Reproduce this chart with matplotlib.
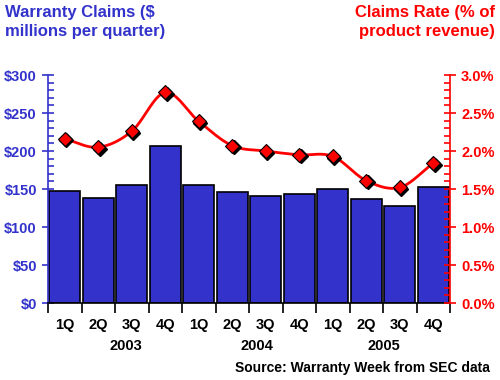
import matplotlib
matplotlib.use("Agg")
import matplotlib.pyplot as plt
import matplotlib.transforms as mtransforms
from matplotlib.ticker import MultipleLocator, FixedLocator, NullFormatter
import numpy as np

plt.rcParams['font.family'] = ['Liberation Sans', 'DejaVu Sans']
plt.rcParams['font.weight'] = 'bold'

quarters = ['1Q', '2Q', '3Q', '4Q'] * 3
years = ['2003', '2004', '2005']
claims = [148, 138, 155, 207, 155, 146, 141, 143, 150, 137, 128, 152]      # $ millions
rate = [2.16, 2.05, 2.26, 2.77, 2.39, 2.07, 2.00, 1.95, 1.93, 1.61, 1.52, 1.84]  # %

BLUE = '#3333cc'
RED = '#ff0000'


def catmull_rom(x, y, n=20):
    # smooth curve through the points, like the original chart's smoothed line
    px = np.concatenate([[2 * x[0] - x[1]], x, [2 * x[-1] - x[-2]]])
    py = np.concatenate([[2 * y[0] - y[1]], y, [2 * y[-1] - y[-2]]])
    xs, ys = [], []
    t = np.linspace(0, 1, n, endpoint=False)
    for i in range(1, len(px) - 2):
        for arr, out in ((px, xs), (py, ys)):
            p0, p1, p2, p3 = arr[i - 1], arr[i], arr[i + 1], arr[i + 2]
            out.extend(0.5 * ((2 * p1) + (-p0 + p2) * t
                              + (2 * p0 - 5 * p1 + 4 * p2 - p3) * t ** 2
                              + (-p0 + 3 * p1 - 3 * p2 + p3) * t ** 3))
    xs.append(x[-1])
    ys.append(y[-1])
    return np.array(xs), np.array(ys)


fig = plt.figure(figsize=(5, 3.8), dpi=100)
ax = fig.add_axes([0.096, 0.2026, 0.804, 0.6])
x = np.arange(len(claims))

ax.bar(x, claims, width=0.92, color=BLUE, edgecolor='black', linewidth=1.2, zorder=2)
ax.set_xlim(-0.5, len(claims) - 0.5)
ax.set_ylim(0, 300)

ax2 = ax.twinx()
ax2.set_ylim(0, 3.0)
sx, sy = catmull_rom(x.astype(float), np.array(rate))
ax2.plot(sx, sy, color=RED, linewidth=2, zorder=3)
shadow = mtransforms.offset_copy(ax2.transData, fig=fig, x=1.5, y=-1.5, units='dots')
ax2.plot(x, rate, linestyle='none', marker='D', markersize=7, color='black',
         transform=shadow, zorder=4)
ax2.plot(x, rate, linestyle='none', marker='D', markersize=7, markerfacecolor=RED,
         markeredgecolor='black', markeredgewidth=0.8, zorder=5)

# left axis
ax.yaxis.set_major_locator(MultipleLocator(50))
ax.yaxis.set_minor_locator(MultipleLocator(10))
ax.set_yticks(np.arange(0, 301, 50))
ax.set_yticklabels(['${}'.format(v) for v in range(0, 301, 50)])
ax.tick_params(axis='y', which='major', direction='inout', length=8, width=1.2,
               colors=BLUE, labelsize=10.5, pad=4)
ax.tick_params(axis='y', which='minor', direction='in', length=4, width=1.2, colors=BLUE)
ax.spines['left'].set_color(BLUE)
ax.spines['left'].set_linewidth(1.2)

# right axis
ax2.yaxis.set_major_locator(MultipleLocator(0.5))
ax2.yaxis.set_minor_locator(MultipleLocator(0.1))
ax2.set_yticks(np.arange(0, 3.01, 0.5))
ax2.set_yticklabels(['{:.1f}%'.format(v) for v in np.arange(0, 3.01, 0.5)])
ax2.tick_params(axis='y', which='major', direction='inout', length=8, width=1.2,
                colors=RED, labelsize=10.5, pad=4)
ax2.tick_params(axis='y', which='minor', direction='in', length=4, width=1.2, colors=RED)
ax2.spines['right'].set_color(RED)
ax2.spines['right'].set_linewidth(1.2)

for a in (ax, ax2):
    a.spines['top'].set_visible(False)
ax2.spines['left'].set_visible(False)
ax2.spines['bottom'].set_visible(False)
ax.spines['right'].set_visible(False)
ax.spines['bottom'].set_linewidth(1.2)

# x axis: ticks at bar boundaries, labels under bar centres
ax.xaxis.set_major_locator(FixedLocator(np.arange(-0.5, len(claims), 1.0)))
ax.xaxis.set_major_formatter(NullFormatter())
ax.xaxis.set_minor_locator(FixedLocator(x))
ax.set_xticklabels(quarters, minor=True)
ax.tick_params(axis='x', which='major', direction='out', length=7, width=1.2, colors='black')
ax.tick_params(axis='x', which='minor', length=0, labelsize=10.5, pad=11)

for yr, xp in zip(years, [1.83, 5.74, 9.53]):
    ax.text(xp, -0.19, yr, transform=ax.get_xaxis_transform(), ha='center', va='center',
            fontsize=10.5, fontweight='bold', color='black')

fig.text(0.98, 0.032, 'Source: Warranty Week from SEC data', ha='right', va='center',
         fontsize=10, fontweight='bold', color='black')
fig.text(0.01, 0.988, 'Warranty Claims ($\nmillions per quarter)', ha='left', va='top',
         fontsize=12, fontweight='bold', color=BLUE, linespacing=1.35)
fig.text(0.99, 0.988, 'Claims Rate (% of\nproduct revenue)', ha='right', va='top',
         fontsize=12, fontweight='bold', color=RED, linespacing=1.35)

fig.savefig('out.png', dpi=100)
